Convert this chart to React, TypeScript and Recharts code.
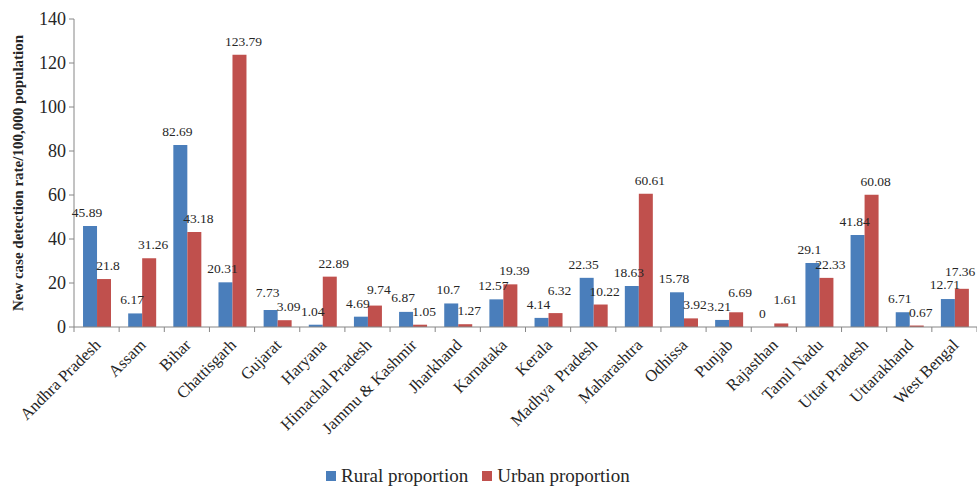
import { Bar, BarChart, Label, LabelList, Legend, XAxis, YAxis } from "recharts";

const states = [
  "Andhra Pradesh",
  "Assam",
  "Bihar",
  "Chattisgarh",
  "Gujarat",
  "Haryana",
  "Himachal Pradesh",
  "Jammu & Kashmir",
  "Jharkhand",
  "Karnataka",
  "Kerala",
  "Madhya  Pradesh",
  "Maharashtra",
  "Odhissa",
  "Punjab",
  "Rajasthan",
  "Tamil Nadu",
  "Uttar Pradesh",
  "Uttarakhand",
  "West Bengal",
];

const rural = [
  45.89, 6.17, 82.69, 20.31, 7.73, 1.04, 4.69, 6.87, 10.7, 12.57, 4.14, 22.35,
  18.63, 15.78, 3.21, 0, 29.1, 41.84, 6.71, 12.71,
];

const urban = [
  21.8, 31.26, 43.18, 123.79, 3.09, 22.89, 9.74, 1.05, 1.27, 19.39, 6.32, 10.22,
  60.61, 3.92, 6.69, 1.61, 22.33, 60.08, 0.67, 17.36,
];

const yTicks = [0, 20, 40, 60, 80, 100, 120, 140];

const data = states.map((state, i) => ({
  state,
  rural: rural[i],
  urban: urban[i],
}));

const W = 977;
const H = 487;
const yAxisWidth = 74;
const topMargin = 19;
const xAxisHeight = 120;
const legendHeight = 40;
const band = (W - yAxisWidth) / states.length;
const pxPerUnit = (H - topMargin - xAxisHeight - legendHeight) / 140;
const axisColor = "#868686";
const textColor = "#262626";
const font = "Liberation Serif";
const blue = "#4a7ebb";
const red = "#c0504d";
const labelSize = 13.5;
const labelLift = 9;
const minSep = 14;

function StateTick(props: any) {
  const { x, y, payload, index } = props;
  const left = x - band / 2;
  return (
    <g>
      <line x1={left} x2={left} y1={y} y2={y + 5} stroke={axisColor} />
      {index === states.length - 1 ? (
        <line x1={x + band / 2} x2={x + band / 2} y1={y} y2={y + 5} stroke={axisColor} />
      ) : null}
      <text
        transform={`translate(${x + 5},${y + 19}) rotate(-45)`}
        textAnchor="end"
        fontSize={16.5}
        fill={textColor}
        style={{ whiteSpace: "pre", fontFamily: font }}
      >
        {payload.value}
      </text>
    </g>
  );
}

function ValueText({ x, y, value }: { x: number; y: number; value: number }) {
  const half = (String(value).length * labelSize * 0.5) / 2;
  return (
    <text
      x={Math.min(x, W - half)}
      y={y}
      textAnchor="middle"
      fontSize={labelSize}
      fill={textColor}
      style={{ fontFamily: font }}
    >
      {value}
    </text>
  );
}

// value labels: rural nudged left, urban right; when the pair sits at nearly
// the same height the taller bar's label is lifted so they don't collide
function valueLabel(series: "rural" | "urban") {
  const dx = series === "rural" ? -3 : 4;
  return (props: any) => {
    const { x, y, width, height, value, index } = props;
    const own = series === "rural" ? rural[index] : urban[index];
    const other = series === "rural" ? urban[index] : rural[index];
    let ly = y - labelLift;
    const otherLy = ly + (own - other) * pxPerUnit;
    if (own > other && ly - otherLy > -minSep) ly = otherLy - minSep;
    // a zero rural bar gets no label of its own, so draw it beside the urban one
    const zeroRural =
      series === "urban" && rural[index] === 0 ? (
        <ValueText x={x - width / 2 - 5} y={y + height - labelLift} value={0} />
      ) : null;
    return (
      <g>
        {zeroRural}
        <ValueText x={x + width / 2 + dx} y={ly} value={value} />
      </g>
    );
  };
}

function YTitle(props: any) {
  const { viewBox } = props;
  const cx = 18;
  const cy = viewBox.y + viewBox.height / 2;
  return (
    <text
      x={cx}
      y={cy}
      transform={`rotate(-90 ${cx} ${cy})`}
      textAnchor="middle"
      dominantBaseline="central"
      fontSize={15}
      fontWeight="bold"
      fill={textColor}
      style={{ fontFamily: font }}
    >
      New case detection rate/100,000 population
    </text>
  );
}

function LegendBox() {
  const items = [
    { name: "Rural proportion", color: blue },
    { name: "Urban proportion", color: red },
  ];
  return (
    <div
      style={{
        height: legendHeight,
        display: "flex",
        alignItems: "flex-end",
        paddingLeft: 326,
        fontFamily: font,
        fontSize: 19,
        color: textColor,
        lineHeight: "22px",
      }}
    >
      {items.map((item) => (
        <div key={item.name} style={{ display: "flex", alignItems: "center", marginRight: 14 }}>
          <span style={{ width: 10, height: 10, background: item.color, marginRight: 5 }} />
          <span>{item.name}</span>
        </div>
      ))}
    </div>
  );
}

export default function App() {
  return (
    <div
      style={{
        position: "absolute",
        left: 0,
        top: 0,
        width: W,
        height: H,
        background: "#fff",
        fontFamily: font,
      }}
    >
      <BarChart
        width={W}
        height={H}
        data={data}
        margin={{ top: topMargin, right: 0, bottom: 0, left: 0 }}
        barCategoryGap="20%"
        barGap={0}
        style={{ fontFamily: font }}
      >
        <XAxis
          dataKey="state"
          interval={0}
          height={xAxisHeight}
          tickLine={false}
          tickSize={0}
          tickMargin={0}
          axisLine={{ stroke: axisColor }}
          tick={<StateTick />}
        />
        <YAxis
          width={yAxisWidth}
          domain={[0, 140]}
          ticks={yTicks}
          interval={0}
          tickSize={5}
          tickMargin={3}
          axisLine={{ stroke: axisColor }}
          tickLine={{ stroke: axisColor }}
          tick={{ fontSize: 18, fill: textColor, style: { fontFamily: font } }}
        >
          <Label content={<YTitle />} />
        </YAxis>
        <Legend verticalAlign="bottom" height={legendHeight} content={() => <LegendBox />} />
        <Bar dataKey="rural" name="Rural proportion" fill={blue} isAnimationActive={false}>
          <LabelList dataKey="rural" content={valueLabel("rural")} />
        </Bar>
        <Bar dataKey="urban" name="Urban proportion" fill={red} isAnimationActive={false}>
          <LabelList dataKey="urban" content={valueLabel("urban")} />
        </Bar>
      </BarChart>
    </div>
  );
}
